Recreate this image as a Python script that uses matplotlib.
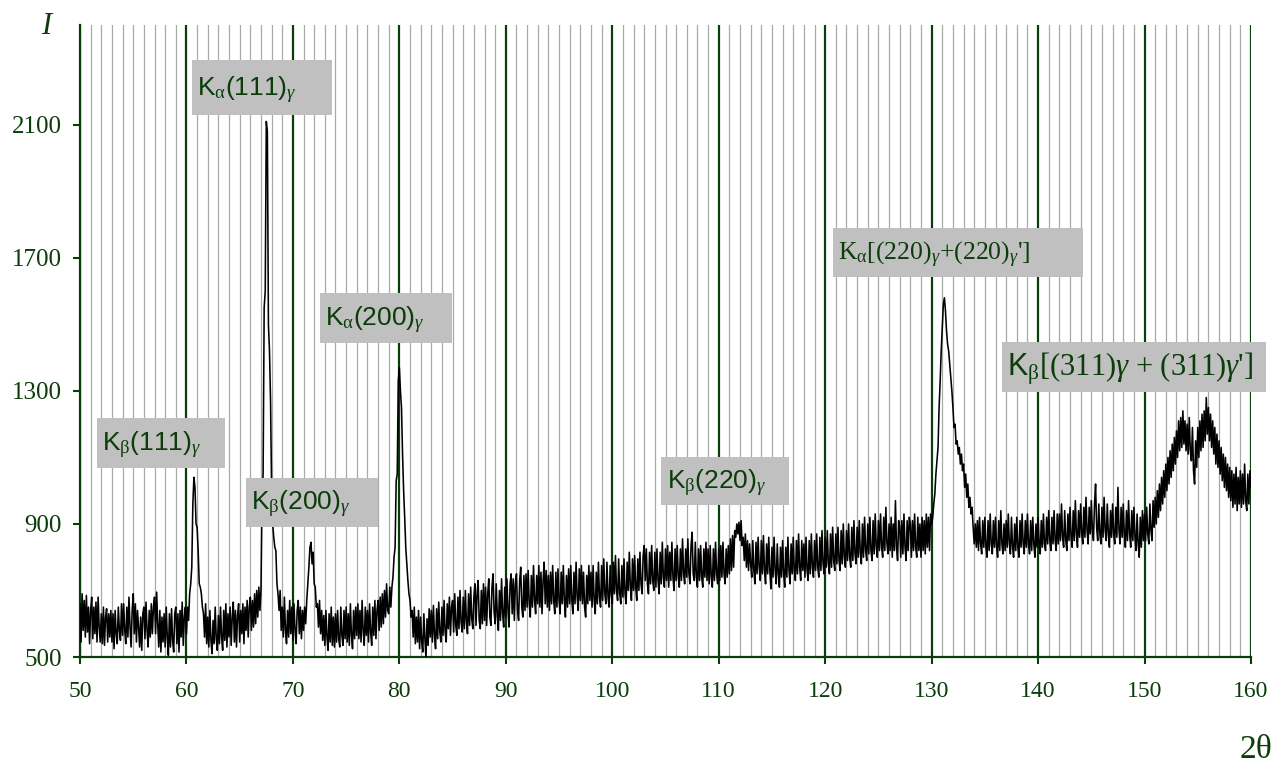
import matplotlib.pyplot as plt
from matplotlib.patches import Rectangle
from matplotlib.ticker import MultipleLocator

# diffraction pattern, every 0.1 deg from 50 to 160
theta_start = 50.0
theta_step = 0.1
intensity = [
    660, 545, 690, 580, 670, 560, 685, 575, 650, 540,  # 50
    640, 680, 555, 650, 570, 665, 545, 680, 590, 545,  # 51
    630, 540, 650, 535, 620, 645, 545, 630, 560, 640,  # 52
    545, 630, 525, 640, 570, 540, 650, 580, 550, 660,  # 53
    565, 660, 580, 540, 650, 560, 680, 590, 530, 640,  # 54
    690, 570, 660, 545, 640, 590, 530, 620, 520, 630,  # 55
    650, 555, 665, 580, 530, 640, 560, 660, 570, 650,  # 56
    680, 570, 695, 600, 530, 640, 515, 620, 545, 630,  # 57
    530, 650, 560, 505, 630, 530, 645, 550, 515, 630,  # 58
    650, 540, 630, 515, 640, 560, 665, 535, 620, 650,  # 59
    570, 650, 610, 690, 720, 770, 960, 1040, 1010, 900,  # 60
    890, 820, 720, 710, 690, 650, 630, 560, 660, 540,  # 61
    620, 530, 640, 550, 510, 610, 540, 650, 555, 520,  # 62
    625, 540, 650, 560, 520, 640, 550, 660, 530, 630,  # 63
    560, 650, 535, 620, 665, 545, 640, 530, 625, 660,  # 64
    545, 640, 570, 660, 540, 650, 580, 670, 560, 650,  # 65
    680, 580, 670, 590, 690, 600, 700, 620, 710, 640,  # 66
    700, 980, 1050, 1550, 1600, 2110, 2080, 1500, 1420, 1270,  # 67
    1000, 900, 860, 830, 820, 720, 690, 640, 700, 580,  # 68
    650, 560, 680, 580, 540, 640, 560, 670, 570, 650,  # 69
    550, 660, 580, 540, 640, 670, 570, 650, 555, 640,  # 70
    580, 650, 600, 670, 720, 770, 830, 845, 780, 815,  # 71
    720, 710, 650, 660, 590, 670, 570, 640, 550, 625,  # 72
    535, 640, 560, 520, 630, 545, 650, 535, 620, 530,  # 73
    630, 545, 640, 555, 530, 650, 565, 535, 640, 555,  # 74
    650, 545, 630, 535, 660, 565, 525, 640, 555, 650,  # 75
    565, 660, 555, 640, 545, 670, 580, 535, 650, 565,  # 76
    640, 545, 660, 575, 535, 650, 565, 670, 555, 640,  # 77
    670, 580, 680, 590, 690, 600, 700, 620, 720, 640,  # 78
    630, 710, 650, 710, 740, 800, 830, 1030, 1050, 1330,  # 79
    1370, 1300, 1250, 1110, 1000, 920, 830, 780, 730, 690,  # 80
    670, 620, 640, 560, 650, 540, 620, 545, 640, 525,  # 81
    620, 545, 515, 630, 555, 495, 615, 535, 645, 560,  # 82
    640, 545, 655, 565, 525, 645, 555, 665, 575, 545,  # 83
    650, 565, 670, 575, 545, 660, 585, 680, 565, 650,  # 84
    670, 575, 690, 595, 565, 680, 585, 700, 605, 575,  # 85
    680, 585, 700, 605, 570, 690, 595, 710, 615, 585,  # 86
    680, 720, 595, 690, 730, 610, 585, 700, 600, 720,  # 87
    610, 710, 595, 690, 735, 620, 595, 710, 750, 635,  # 88
    600, 720, 625, 580, 700, 610, 735, 630, 590, 710,  # 89
    620, 735, 645, 590, 720, 750, 630, 735, 610, 720,  # 90
    750, 640, 610, 730, 770, 650, 620, 745, 640, 750,  # 91
    650, 760, 660, 620, 745, 650, 775, 670, 630, 745,  # 92
    660, 775, 650, 755, 630, 730, 785, 660, 760, 650,  # 93
    745, 640, 755, 660, 775, 670, 630, 755, 650, 765,  # 94
    670, 630, 755, 660, 775, 670, 620, 745, 650, 765,  # 95
    660, 775, 670, 630, 755, 660, 785, 680, 640, 765,  # 96
    670, 775, 660, 755, 650, 620, 745, 660, 775, 670,  # 97
    755, 650, 775, 670, 630, 755, 660, 785, 680, 650,  # 98
    775, 670, 795, 690, 660, 785, 680, 650, 775, 690,  # 99
    660, 785, 690, 805, 700, 670, 795, 690, 660, 775,  # 100
    680, 795, 690, 660, 785, 700, 815, 710, 670, 795,  # 101
    700, 805, 710, 670, 795, 700, 815, 720, 690, 805,  # 102
    835, 730, 825, 720, 690, 815, 720, 835, 730, 700,  # 103
    815, 710, 825, 730, 690, 815, 720, 845, 740, 710,  # 104
    825, 730, 835, 710, 815, 730, 845, 740, 700, 825,  # 105
    730, 835, 740, 710, 825, 730, 855, 750, 720, 825,  # 106
    740, 855, 750, 720, 835, 875, 750, 730, 845, 740,  # 107
    710, 825, 730, 835, 740, 710, 825, 740, 845, 730,  # 108
    825, 720, 835, 740, 710, 825, 730, 845, 750, 720,  # 109
    825, 730, 835, 740, 845, 750, 720, 825, 740, 835,  # 110
    750, 855, 760, 865, 770, 880, 860, 900, 870, 905,  # 111
    850, 910, 835, 860, 790, 870, 770, 850, 760, 840,  # 112
    780, 740, 850, 760, 720, 845, 750, 860, 770, 730,  # 113
    850, 750, 865, 760, 720, 840, 750, 860, 760, 705,  # 114
    830, 740, 860, 760, 720, 840, 750, 710, 830, 740,  # 115
    850, 750, 710, 830, 740, 860, 760, 720, 840, 750,  # 116
    860, 760, 730, 850, 750, 870, 770, 730, 850, 760,  # 117
    840, 740, 860, 760, 730, 850, 750, 870, 770, 740,  # 118
    850, 760, 870, 770, 740, 860, 760, 880, 780, 750,  # 119
    860, 770, 880, 780, 750, 870, 770, 890, 790, 760,  # 120
    870, 780, 890, 790, 760, 880, 780, 900, 800, 770,  # 121
    880, 790, 900, 800, 770, 890, 790, 910, 810, 780,  # 122
    890, 800, 910, 810, 780, 900, 800, 920, 820, 790,  # 123
    900, 810, 920, 820, 790, 910, 810, 930, 830, 800,  # 124
    910, 820, 930, 830, 800, 920, 820, 950, 840, 810,  # 125
    900, 820, 920, 800, 900, 820, 970, 830, 790, 910,  # 126
    890, 800, 910, 810, 930, 830, 790, 910, 820, 920,  # 127
    900, 800, 910, 820, 930, 830, 800, 920, 820, 900,  # 128
    800, 920, 820, 910, 810, 930, 830, 920, 820, 930,  # 129
    900, 920, 960, 990, 1050, 1090, 1130, 1250, 1330, 1420,  # 130
    1490, 1560, 1580, 1540, 1480, 1440, 1420, 1380, 1340, 1300,  # 131
    1250, 1190, 1200, 1140, 1150, 1110, 1130, 1080, 1110, 1060,  # 132
    1080, 1010, 1050, 980, 1020, 950, 980, 930, 950, 890,  # 133
    840, 900, 830, 910, 820, 920, 840, 810, 910, 830,  # 134
    920, 830, 800, 910, 820, 930, 840, 810, 910, 830,  # 135
    920, 830, 800, 910, 820, 940, 840, 810, 900, 820,  # 136
    910, 830, 930, 840, 810, 920, 830, 800, 900, 820,  # 137
    920, 830, 800, 910, 830, 930, 840, 810, 910, 830,  # 138
    930, 840, 810, 910, 820, 920, 840, 800, 900, 830,  # 139
    920, 840, 810, 910, 830, 930, 840, 820, 920, 840,  # 140
    940, 850, 820, 920, 840, 940, 850, 820, 930, 840,  # 141
    930, 850, 960, 860, 830, 940, 850, 820, 930, 850,  # 142
    950, 860, 830, 940, 850, 970, 870, 830, 940, 860,  # 143
    960, 870, 840, 950, 860, 980, 880, 840, 950, 870,  # 144
    970, 880, 850, 960, 1020, 890, 850, 960, 870, 840,  # 145
    950, 860, 980, 880, 850, 960, 870, 830, 940, 860,  # 146
    960, 870, 840, 950, 860, 1010, 880, 840, 950, 860,  # 147
    960, 870, 830, 940, 850, 970, 870, 830, 940, 850,  # 148
    950, 860, 820, 930, 840, 800, 920, 830, 940, 850,  # 149
    930, 850, 950, 870, 840, 960, 880, 850, 970, 890,  # 150
    980, 900, 1000, 920, 1020, 940, 1040, 960, 1060, 980,  # 151
    1080, 1000, 1100, 1020, 1120, 1040, 1140, 1060, 1160, 1080,  # 152
    1180, 1100, 1210, 1120, 1220, 1130, 1240, 1140, 1210, 1120,  # 153
    1200, 1110, 1220, 1120, 1090, 1190, 1060, 1020, 1150, 1070,  # 154
    1190, 1100, 1210, 1120, 1230, 1130, 1240, 1150, 1280, 1170,  # 155
    1250, 1150, 1230, 1130, 1210, 1110, 1190, 1080, 1170, 1070,  # 156
    1150, 1050, 1130, 1030, 1110, 1010, 1100, 1000, 1080, 980,  # 157
    1070, 970, 1060, 950, 1050, 960, 1070, 940, 1040, 960,  # 158
    1060, 950, 1050, 960, 1080, 970, 940, 1050, 960, 1060,  # 159
    1010,  # 160
]
two_theta = [round(theta_start + i * theta_step, 1) for i in range(len(intensity))]

x_ticks = [50, 60, 70, 80, 90, 100, 110, 120, 130, 140, 150, 160]
y_ticks = [500, 900, 1300, 1700, 2100]

peak_labels = [
    r"K$_{\mathrm{\alpha}}$(111)$_{\gamma}$",
    r"K$_{\mathrm{\beta}}$(111)$_{\gamma}$",
    r"K$_{\mathrm{\beta}}$(200)$_{\gamma}$",
    r"K$_{\mathrm{\alpha}}$(200)$_{\gamma}$",
    r"K$_{\mathrm{\beta}}$(220)$_{\gamma}$",
    r"K$_{\mathrm{\alpha}}$[(220)$_{\gamma}$+(220)$_{\gamma}$']",
    r"$\mathsf{K}_{\mathrm{\beta}}$[(311)$\gamma$ + (311)$\gamma$']",
]
label_fonts = ["Liberation Sans"] * 5 + ["Liberation Serif"] * 2
label_sizes = [19, 19, 19, 19, 19, 18.5, 22]
# grey boxes: (x0, x1, y0, y1) in data units
label_boxes = [
    (60.5, 73.7, 2130, 2296),
    (51.6, 63.6, 1068, 1219),
    (65.6, 78.0, 891, 1038),
    (72.5, 84.9, 1444, 1595),
    (104.6, 116.6, 957, 1102),
    (120.7, 144.2, 1643, 1790),
    (136.6, 161.4, 1297, 1447),
]

GREEN = "#0b3d0b"
plt.rcParams["mathtext.fontset"] = "custom"
plt.rcParams["mathtext.rm"] = "Liberation Serif"
plt.rcParams["mathtext.it"] = "Liberation Serif:italic"
plt.rcParams["mathtext.sf"] = "Liberation Sans"

fig = plt.figure(figsize=(12.84, 7.65), dpi=100)
ax = fig.add_axes([80 / 1284, 1 - 657 / 765, (1251 - 80) / 1284, (657 - 25) / 765])

ax.plot(two_theta, intensity, color="black", lw=1.15, zorder=3)

ax.set_xlim(50, 160)
ax.set_ylim(500, 2400)
ax.set_xticks(x_ticks)
ax.set_yticks(y_ticks)
ax.xaxis.set_minor_locator(MultipleLocator(1))
ax.grid(which="minor", axis="x", color="#a9a9a9", lw=0.9)
ax.grid(which="major", axis="x", color=GREEN, lw=1.6)
ax.tick_params(which="minor", length=0)
ax.tick_params(which="major", direction="out", length=5, width=1.5,
               color=GREEN, labelcolor=GREEN)
ax.tick_params(axis="x", pad=12, labelsize=17)
ax.tick_params(axis="y", pad=8, labelsize=18)
for lab in ax.get_xticklabels() + ax.get_yticklabels():
    lab.set_fontfamily("Liberation Serif")

for side in ["top", "right"]:
    ax.spines[side].set_visible(False)
for side in ["left", "bottom"]:
    ax.spines[side].set_color(GREEN)
    ax.spines[side].set_linewidth(1.6)

for text, font, size, (x0, x1, y0, y1) in zip(peak_labels, label_fonts, label_sizes, label_boxes):
    ax.add_patch(Rectangle((x0, y0), x1 - x0, y1 - y0, facecolor="#c0c0c0",
                           edgecolor="none", zorder=4, clip_on=False))
    ax.text(x0 + 0.5, y0 + 0.33 * (y1 - y0), text, family=font, fontsize=size,
            color=GREEN, ha="left", va="baseline", zorder=5, clip_on=False)

fig.text(46 / 1284, 1 - 27 / 765, "I", family="Liberation Serif", style="italic",
         fontsize=22, color=GREEN, ha="center", va="center")
fig.text(1256 / 1284, 1 - 750 / 765, "2θ", family="Liberation Serif",
         fontsize=24, color=GREEN, ha="center", va="center")

fig.savefig("out.png", dpi=100)
